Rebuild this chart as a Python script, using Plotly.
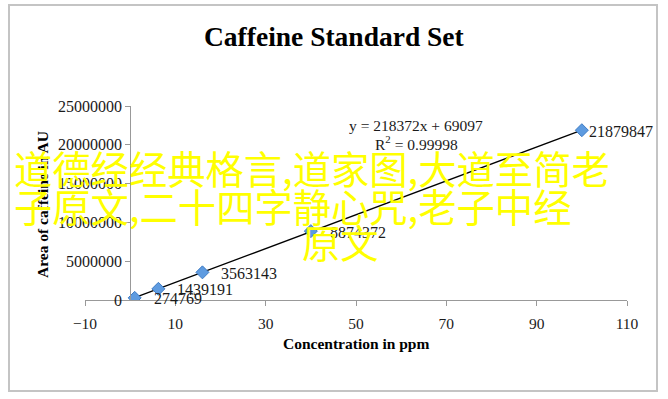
import numpy as np
import plotly.graph_objects as go

# ---- data ----
concentration_ppm = [1, 6.25, 16, 40, 100]
area_au = [274769, 1439191, 3563143, 8874372, 21879847]
x_tick_values = [-10, 10, 30, 50, 70, 90, 110]
y_tick_values = [0, 5000000, 10000000, 15000000, 20000000, 25000000]
equation_text = "y = 218372x + 69097"
r2_text = "R<sup>2</sup> = 0.99998"
title_text = "Caffeine Standard Set"
x_title = "Concentration in ppm"
y_title = "Area of caffeine in AU"
overlay_lines = ["道德经经典格言,道家图,大道至简老", "子原文,二十四字静心咒,老子中经", "原文"]

W, H = 668, 399
L, R, T, B = 85, 41, 106, 99
PW, PH = W - L - R, H - T - B


def px(p):
    return (p - L) / PW


def py(p):
    return (H - B - p) / PH


SERIF = "Liberation Serif"

fig = go.Figure()

# trendline (least squares fit over the data range)
slope, intercept = np.polyfit(concentration_ppm, area_au, 1)
tx = [concentration_ppm[0], concentration_ppm[-1]]
fig.add_trace(go.Scatter(x=tx, y=[slope * v + intercept for v in tx], mode="lines",
                         line=dict(color="black", width=1.3), hoverinfo="skip", showlegend=False))

# markers
fig.add_trace(go.Scatter(x=concentration_ppm, y=area_au, mode="markers",
                         marker=dict(symbol="diamond", size=10, color="#5e9be0",
                                     line=dict(color="#3f7cc4", width=1)),
                         showlegend=False))

annotations = []
for i, (xv, yv) in enumerate(zip(concentration_ppm, area_au)):
    shift = 17 if i < len(concentration_ppm) - 1 else 5
    annotations.append(dict(x=xv, y=yv, xref="x", yref="y", text=str(yv), showarrow=False,
                            xanchor="left", yanchor="middle", xshift=shift, yshift=-1,
                            font=dict(family=SERIF, size=16, color="#1a1a1a")))

# equation
annotations.append(dict(x=px(416), y=py(125), xref="paper", yref="paper", text=equation_text,
                        showarrow=False, xanchor="center", yanchor="middle",
                        font=dict(family=SERIF, size=15.5, color="#1a1a1a")))
annotations.append(dict(x=px(416), y=py(143), xref="paper", yref="paper", text=r2_text,
                        showarrow=False, xanchor="center", yanchor="middle",
                        font=dict(family=SERIF, size=15.5, color="#1a1a1a")))

# title
annotations.append(dict(x=px(334), y=py(37), xref="paper", yref="paper", text="<b>" + title_text + "</b>",
                        showarrow=False, xanchor="center", yanchor="middle",
                        font=dict(family=SERIF, size=27.5, color="black")))
# axis titles
annotations.append(dict(x=px(356), y=py(343), xref="paper", yref="paper", text="<b>" + x_title + "</b>",
                        showarrow=False, xanchor="center", yanchor="middle",
                        font=dict(family=SERIF, size=15.5, color="black")))
annotations.append(dict(x=px(42), y=py(205), xref="paper", yref="paper", text="<b>" + y_title + "</b>",
                        showarrow=False, xanchor="center", yanchor="middle", textangle=-90,
                        font=dict(family=SERIF, size=15.5, color="black")))

# yellow overlay text
overlay_pos = [(12, 167), (12, 205), (300, 241)]
for line, (lx, ly) in zip(overlay_lines, overlay_pos):
    annotations.append(dict(x=px(lx), y=py(ly), xref="paper", yref="paper", text=line,
                            showarrow=False, xanchor="left", yanchor="middle",
                            font=dict(family="Noto Sans CJK SC", size=38.3, color="#ffff00")))

shapes = [dict(type="rect", xref="paper", yref="paper", x0=px(9), x1=px(657), y0=py(5), y1=py(391),
               line=dict(color="#c4c4c4", width=2), layer="below")]

fig.update_layout(
    width=W, height=H, margin=dict(l=L, r=R, t=T, b=B),
    paper_bgcolor="white", plot_bgcolor="white",
    annotations=annotations, shapes=shapes,
    xaxis=dict(range=[-10, 110], tickvals=x_tick_values, showgrid=False, zeroline=False,
               showline=True, linecolor="#999999", linewidth=1, ticks="outside", ticklen=5,
               tickcolor="#999999", tickfont=dict(family=SERIF, size=15.5, color="#1a1a1a"),
               ticklabelstandoff=4),
    yaxis=dict(range=[0, 25000000], tickvals=y_tick_values, tickformat="d", showgrid=False,
               zeroline=False, showline=True, linecolor="#999999", linewidth=1, ticks="outside",
               ticklen=5, tickcolor="#999999", anchor="free", position=(0 - (-10)) / 120,
               tickfont=dict(family=SERIF, size=16, color="#1a1a1a")),
)

fig.write_html("out.html", config={"displayModeBar": False},
               post_script="document.body.style.margin='0';document.body.style.overflow='hidden';")
